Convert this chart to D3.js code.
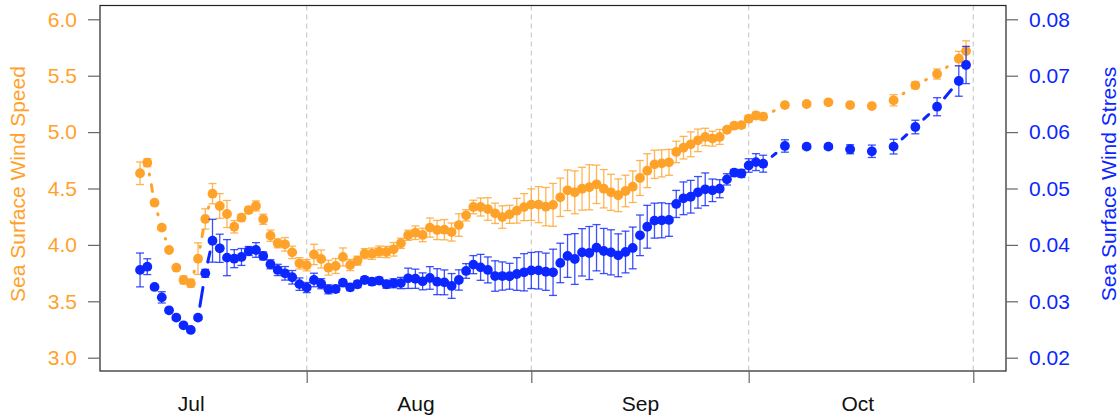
<!DOCTYPE html>
<html>
<head>
<meta charset="utf-8">
<script src="https://cdn.jsdelivr.net/npm/d3@7"></script>
<style>
  html, body { margin: 0; padding: 0; background: #fff; }
  svg { display: block; font-family: "Liberation Sans", Arial, sans-serif; }
</style>
</head>
<body>
<svg id="chart" width="1120" height="419"></svg>
<script>
const dates = [
  "2021-07-09", "2021-07-10", "2021-07-11", "2021-07-12", "2021-07-13", "2021-07-14", "2021-07-15", "2021-07-16",
  "2021-07-17", "2021-07-18", "2021-07-19", "2021-07-20", "2021-07-21", "2021-07-22", "2021-07-23", "2021-07-24",
  "2021-07-25", "2021-07-26", "2021-07-27", "2021-07-28", "2021-07-29", "2021-07-30", "2021-07-31",
  "2021-08-01", "2021-08-02", "2021-08-03", "2021-08-04", "2021-08-05", "2021-08-06", "2021-08-07", "2021-08-08",
  "2021-08-09", "2021-08-10", "2021-08-11", "2021-08-12", "2021-08-13", "2021-08-14", "2021-08-15", "2021-08-16",
  "2021-08-17", "2021-08-18", "2021-08-19", "2021-08-20", "2021-08-21", "2021-08-22", "2021-08-23", "2021-08-24",
  "2021-08-25", "2021-08-26", "2021-08-27", "2021-08-28", "2021-08-29", "2021-08-30", "2021-08-31",
  "2021-09-01", "2021-09-02", "2021-09-03", "2021-09-04", "2021-09-05", "2021-09-06", "2021-09-07", "2021-09-08",
  "2021-09-09", "2021-09-10", "2021-09-11", "2021-09-12", "2021-09-13", "2021-09-14", "2021-09-15", "2021-09-16",
  "2021-09-17", "2021-09-18", "2021-09-19", "2021-09-20", "2021-09-21", "2021-09-22", "2021-09-23", "2021-09-24",
  "2021-09-25", "2021-09-26", "2021-09-27", "2021-09-28", "2021-09-29", "2021-09-30",
  "2021-10-01", "2021-10-02", "2021-10-03", "2021-10-06", "2021-10-09", "2021-10-12", "2021-10-15", "2021-10-18",
  "2021-10-21", "2021-10-24", "2021-10-27", "2021-10-30", "2021-10-31"
];

// wind speed (left axis) and its error half-widths
const windSpeed = [
  4.635, 4.729, 4.374, 4.153, 3.955, 3.798, 3.689, 3.660, 3.878, 4.230,
  4.454, 4.345, 4.274, 4.161, 4.241, 4.309, 4.345, 4.227, 4.082, 4.014,
  4.005, 3.934, 3.837,
  3.820, 3.915, 3.875, 3.798, 3.813, 3.893, 3.822, 3.860, 3.922, 3.922,
  3.940, 3.937, 3.961, 4.014, 4.085, 4.108, 4.088, 4.153, 4.132, 4.135,
  4.114, 4.176, 4.262, 4.336, 4.336, 4.318, 4.280, 4.247, 4.271, 4.303, 4.335,
  4.357, 4.357, 4.339, 4.355, 4.422, 4.484, 4.466, 4.498, 4.511, 4.537,
  4.498, 4.466, 4.440, 4.478, 4.516, 4.593, 4.658, 4.714, 4.723, 4.732,
  4.824, 4.862, 4.892, 4.927, 4.957, 4.942, 4.957, 5.021, 5.057, 5.062,
  5.118, 5.147, 5.137,
  5.240, 5.249, 5.264, 5.240, 5.231, 5.282, 5.415, 5.515, 5.651, 5.719
];
const windSpeedErr = [
  0.10, 0.035, 0.01, 0.02, 0.01, 0.015, 0.035, 0.035, 0.14, 0.09,
  0.09, 0.11, 0.12, 0.055, 0.03, 0.03, 0.045, 0.045, 0.05, 0.04,
  0.06, 0.055, 0.05,
  0.05, 0.09, 0.08, 0.066, 0.066, 0.08, 0.05, 0.04, 0.045, 0.05,
  0.05, 0.05, 0.06, 0.045, 0.045, 0.06, 0.06, 0.085, 0.085, 0.09,
  0.08, 0.10, 0.05, 0.06, 0.08, 0.10, 0.09, 0.10, 0.08, 0.11, 0.12,
  0.14, 0.16, 0.17, 0.19, 0.17, 0.18, 0.19, 0.19, 0.20, 0.17,
  0.17, 0.16, 0.145, 0.14, 0.14, 0.155, 0.15, 0.125, 0.12, 0.115,
  0.095, 0.10, 0.11, 0.10, 0.077, 0.066, 0.066, 0.02, 0.025, 0.025,
  0.03, 0.03, 0.03,
  0.02, 0.015, 0.015, 0.02, 0.015, 0.05, 0.03, 0.045, 0.065, 0.09
];

// wind stress (right axis) and its error half-widths
const windStress = [
  0.03556, 0.03614, 0.03254, 0.0307, 0.0284, 0.0271, 0.02574, 0.02492, 0.0271, 0.03496,
  0.04074, 0.0394, 0.03774, 0.03756, 0.03786, 0.03892, 0.0391, 0.03804, 0.03656, 0.03556,
  0.03496, 0.03426, 0.03304,
  0.03244, 0.03378, 0.03312, 0.03212, 0.03218, 0.0333, 0.03248, 0.03302, 0.03378, 0.03348,
  0.03366, 0.03302, 0.0332, 0.03324, 0.03408, 0.034, 0.03354, 0.03414, 0.03348, 0.03336,
  0.03272, 0.03378, 0.03538, 0.0365, 0.03602, 0.03556, 0.03448, 0.03448, 0.03444, 0.03484, 0.03514,
  0.03546, 0.03548, 0.03524, 0.03514, 0.0368, 0.03804, 0.0375, 0.03868, 0.03856, 0.0395,
  0.03892, 0.03868, 0.03816, 0.03874, 0.03946, 0.0417, 0.04322, 0.0443, 0.04436, 0.04442,
  0.04726, 0.04826, 0.04854, 0.04932, 0.04986, 0.04968, 0.04996, 0.05162, 0.0528, 0.05266,
  0.05408, 0.05468, 0.0544,
  0.05754, 0.05742, 0.05742, 0.05696, 0.0566, 0.05742, 0.0609, 0.0645, 0.06906, 0.0719
];
const windStressErr = [
  0.003, 0.0014, 0.0003, 0.001, 0.0004, 0.0004, 0.0003, 0.0003, 0.0004, 0.0007,
  0.0038, 0.0025, 0.0032, 0.0016, 0.0015, 0.0008, 0.0013, 0.0007, 0.0008, 0.001,
  0.0012, 0.0012, 0.0011,
  0.0009, 0.0012, 0.0009, 0.0008, 0.0006, 0.0005, 0.0006, 0.0006, 0.0006, 0.0006,
  0.0006, 0.0007, 0.0008, 0.001, 0.0018, 0.0017, 0.0015, 0.002, 0.0023, 0.0022,
  0.0022, 0.0018, 0.0013, 0.0016, 0.0023, 0.0023, 0.0027, 0.0025, 0.0023, 0.0029, 0.0033,
  0.0032, 0.0033, 0.0033, 0.0041, 0.0035, 0.0038, 0.0045, 0.0042, 0.0047, 0.0041,
  0.004, 0.004, 0.0038, 0.0037, 0.0037, 0.0036, 0.0038, 0.0031, 0.0031, 0.0029,
  0.0024, 0.0029, 0.0029, 0.0028, 0.0029, 0.002, 0.0016, 0.001, 0.0006, 0.0007,
  0.0012, 0.0015, 0.0015,
  0.0011, 0.0004, 0.0004, 0.0008, 0.0011, 0.0013, 0.0012, 0.0016, 0.0027, 0.0033
];

const speedTicks = [3.0, 3.5, 4.0, 4.5, 5.0, 5.5, 6.0];
const stressTicks = [0.02, 0.03, 0.04, 0.05, 0.06, 0.07, 0.08];
const monthBreaks = ["2021-08-01", "2021-09-01", "2021-10-01", "2021-11-01"];
const monthLabels = ["Jul", "Aug", "Sep", "Oct"];
const monthLabelDates = ["2021-07-16", "2021-08-16", "2021-09-16", "2021-10-16"];

const orange = "#FFA22A";
const blue = "#0C26FF";

const parse = d3.utcParse("%Y-%m-%d");
const data = dates.map((d, i) => ({
  date: parse(d),
  speed: windSpeed[i],
  speedErr: windSpeedErr[i],
  stress: windStress[i],
  stressErr: windStressErr[i],
}));

const plotLeft = 100, plotRight = 1006, plotTop = 5.5, plotBottom = 371;
const pointGap = 11.5; // lines stop short of each point, like R's type = "b"

const svg = d3.select("#chart");

const x = d3.scaleUtc()
  .domain([new Date(Date.UTC(2021, 6, 3, 11, 20)), new Date(Date.UTC(2021, 10, 5, 12, 20))])
  .range([plotLeft, plotRight]);
const ySpeed = d3.scaleLinear().domain([3, 6]).range([357.7, 19.3]);
const yStress = d3.scaleLinear().domain([0.02, 0.08]).range([357.7, 19.3]);

// month grid lines
svg.append("g")
  .selectAll("line")
  .data(monthBreaks.map(parse))
  .join("line")
  .attr("x1", (d) => x(d))
  .attr("x2", (d) => x(d))
  .attr("y1", plotTop)
  .attr("y2", plotBottom)
  .attr("stroke", "#cbcbcb")
  .attr("stroke-width", 1.2)
  .attr("stroke-dasharray", "5,4");

// segments between neighbouring points, trimmed at both ends
function gapSegments(yScale, key) {
  const pts = data.map((d) => [x(d.date), yScale(d[key])]);
  const segs = [];
  for (let i = 1; i < pts.length; i++) {
    const [x0, y0] = pts[i - 1];
    const [x1, y1] = pts[i];
    const len = Math.hypot(x1 - x0, y1 - y0);
    if (len <= 2 * pointGap) continue;
    const ux = (x1 - x0) / len, uy = (y1 - y0) / len;
    segs.push([x0 + ux * pointGap, y0 + uy * pointGap, x1 - ux * pointGap, y1 - uy * pointGap]);
  }
  return segs;
}

function drawLinks(yScale, key, color, dash) {
  svg.append("g")
    .selectAll("line")
    .data(gapSegments(yScale, key))
    .join("line")
    .attr("x1", (s) => s[0])
    .attr("y1", (s) => s[1])
    .attr("x2", (s) => s[2])
    .attr("y2", (s) => s[3])
    .attr("stroke", color)
    .attr("stroke-width", 3)
    .attr("stroke-linecap", "round")
    .attr("stroke-dasharray", dash);
}

drawLinks(ySpeed, "speed", orange, "1,10,10,10");
drawLinks(yStress, "stress", blue, "19,11");

function drawSeries(yScale, key, errKey, color) {
  const g = svg.append("g");
  const cap = 4;

  const bars = g.append("g")
    .attr("stroke", color)
    .attr("stroke-width", 1.3)
    .attr("stroke-opacity", 0.8)
    .selectAll("g")
    .data(data)
    .join("g");

  bars.append("line")
    .attr("x1", (d) => x(d.date))
    .attr("x2", (d) => x(d.date))
    .attr("y1", (d) => yScale(d[key] - d[errKey]))
    .attr("y2", (d) => yScale(d[key] + d[errKey]));
  bars.append("line")
    .attr("x1", (d) => x(d.date) - cap)
    .attr("x2", (d) => x(d.date) + cap)
    .attr("y1", (d) => yScale(d[key] + d[errKey]))
    .attr("y2", (d) => yScale(d[key] + d[errKey]));
  bars.append("line")
    .attr("x1", (d) => x(d.date) - cap)
    .attr("x2", (d) => x(d.date) + cap)
    .attr("y1", (d) => yScale(d[key] - d[errKey]))
    .attr("y2", (d) => yScale(d[key] - d[errKey]));

  g.append("g")
    .selectAll("circle")
    .data(data)
    .join("circle")
    .attr("cx", (d) => x(d.date))
    .attr("cy", (d) => yScale(d[key]))
    .attr("r", 4.9)
    .attr("fill", color);
}

drawSeries(ySpeed, "speed", "speedErr", orange);
drawSeries(yStress, "stress", "stressErr", blue);

// frame
svg.append("rect")
  .attr("x", plotLeft)
  .attr("y", plotTop)
  .attr("width", plotRight - plotLeft)
  .attr("height", plotBottom - plotTop)
  .attr("fill", "none")
  .attr("stroke", "#222")
  .attr("stroke-width", 1.2);

// axes
const leftAxis = svg.append("g")
  .attr("transform", `translate(${plotLeft},0)`)
  .call(d3.axisLeft(ySpeed).tickValues(speedTicks).tickFormat(d3.format(".1f")).tickSize(12).tickPadding(11));
leftAxis.select(".domain").remove();
leftAxis.selectAll("line").attr("stroke", "#666").attr("stroke-width", 1.2);
leftAxis.selectAll("text").attr("fill", orange).style("font-size", "21px");

const rightAxis = svg.append("g")
  .attr("transform", `translate(${plotRight},0)`)
  .call(d3.axisRight(yStress).tickValues(stressTicks).tickFormat(d3.format(".2f")).tickSize(12).tickPadding(11));
rightAxis.select(".domain").remove();
rightAxis.selectAll("line").attr("stroke", "#666").attr("stroke-width", 1.2);
rightAxis.selectAll("text").attr("fill", blue).style("font-size", "21px");

const xTicks = svg.append("g")
  .attr("transform", `translate(0,${plotBottom})`)
  .call(d3.axisBottom(x).tickValues(monthBreaks.map(parse)).tickSize(12).tickFormat(""));
xTicks.select(".domain").remove();
xTicks.selectAll("line").attr("stroke", "#666").attr("stroke-width", 1.2);

const xLabels = svg.append("g")
  .attr("transform", `translate(0,${plotBottom})`)
  .call(d3.axisBottom(x).tickValues(monthLabelDates.map(parse)).tickSize(0).tickPadding(25.5)
    .tickFormat((d, i) => monthLabels[i]));
xLabels.select(".domain").remove();
xLabels.selectAll("text").attr("fill", "#111").style("font-size", "21px");

// axis titles
svg.append("text")
  .attr("transform", "translate(25,184) rotate(-90)")
  .attr("text-anchor", "middle")
  .attr("fill", orange)
  .style("font-size", "21px")
  .text("Sea Surface Wind Speed");

svg.append("text")
  .attr("transform", "translate(1116,184) rotate(-90)")
  .attr("text-anchor", "middle")
  .attr("fill", blue)
  .style("font-size", "21px")
  .text("Sea Surface Wind Stress");
</script>
</body>
</html>
